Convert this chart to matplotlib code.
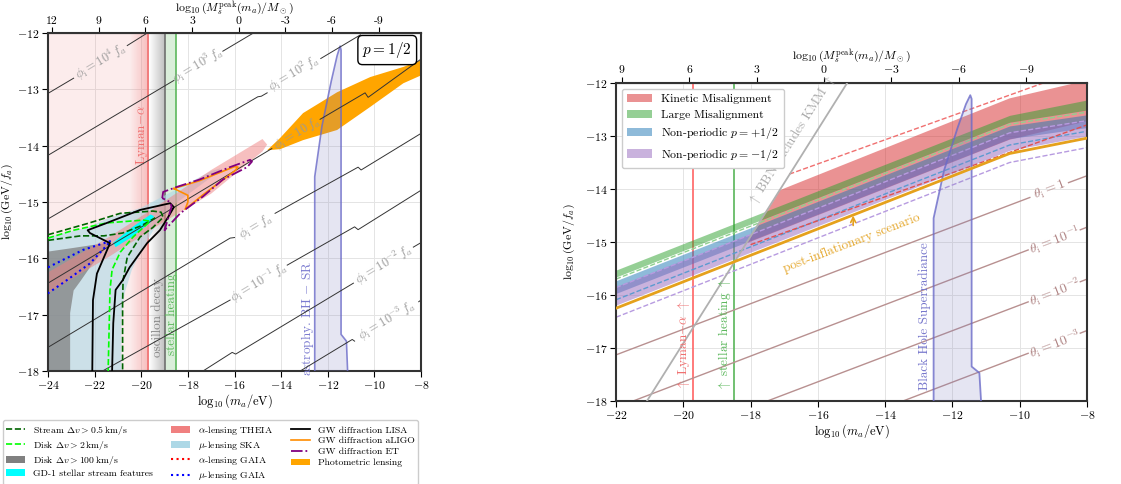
import numpy as np
import matplotlib
matplotlib.use('Agg')
import matplotlib.pyplot as plt
from matplotlib.patches import Patch
from matplotlib.lines import Line2D

plt.rcParams.update({
    'font.family': 'serif',
    'font.serif': ['cmr10'],
    'mathtext.fontset': 'cm',
    'axes.formatter.use_mathtext': True,
    'font.size': 9,
})
nan = np.nan

# ---------------- shared vertical bounds (log10 m_a / eV) ----------------
lyman_m = -19.7
osc_m = -19.0
heat_m = -18.5

# black hole superradiance region
bh_m = [-12.56, -12.56, -12.25, -11.85, -11.6, -11.47, -11.43, -11.43, -11.2, -11.15]
bh_y = [-18, -14.55, -13.65, -12.85, -12.4, -12.23, -12.3, -17.35, -17.47, -18]

# ---------------- left panel: p = 1/2 ----------------
ska_m = [-24, -24, -22.3, -21.5, -20.0, -19.3, -17.0, -16.6, -16.7, -17.2, -18.6, -19.2,
         -19.9, -20.4, -20.7, -20.85, -20.85]
ska_y = [-18, -15.62, -15.45, -15.3, -15.1, -14.95, -14.45, -14.4, -14.47, -14.62, -15.05, -15.3,
         -15.8, -16.2, -16.6, -17.0, -18]

disk100_m = [-24, -24, -23.0, -22.2, -21.35, -21.47, -21.9, -22.2, -22.6, -22.9, -23.05, -23.05]
disk100_y = [-18, -15.88, -15.82, -15.77, -15.72, -15.8, -16.0, -16.16, -16.4, -16.57, -16.97, -18]

theia_m = [-24, -21.3, -19.5, -17.0, -14.8, -14.6, -14.8, -17.0, -19.3, -21.3, -24]
theia_y = [-16.25, -15.6, -15.12, -14.43, -13.88, -13.98, -14.1, -14.85, -15.42, -15.95, -16.62]

gd1_m = [-21.2, -20.4, -19.6, -19.45, -19.6, -20.4, -21.1]
gd1_y = [-15.72, -15.45, -15.22, -15.25, -15.36, -15.62, -15.8]

stream_m = [-24, -22.3, -20.9, -19.5, -19.15, -19.06, -19.5, -20.05, -20.6, -20.78, -20.8, -20.8]
stream_y = [-15.58, -15.38, -15.2, -15.16, -15.18, -15.27, -15.45, -15.62, -15.98, -16.39, -16.8, -18]
stream2_m = [-24, -22.6, -21.6, -20.8, -20.0, -19.4]
stream2_y = [-15.68, -15.6, -15.6, -15.55, -15.42, -15.28]

disk2_m = [-24, -22.9, -21.47, -19.9, -19.62, -20.35, -20.9, -21.25, -21.34, -21.42]
disk2_y = [-15.64, -15.5, -15.37, -15.32, -15.34, -15.62, -15.89, -16.2, -16.56, -18]

gaia_mu_m = [-24, -22.5, -21.3, -22.2, -23.2, -24]
gaia_mu_y = [-16.16, -15.85, -15.69, -16.09, -16.39, -16.62]

lisa_m = [-22.1, -22.07, -21.9, -21.34, -22.2, -22.3, -21.47, -20.05, -18.76, -18.6, -18.85,
          -19.2, -19.75, -20.5, -20.8, -21.1, -21.2, -21.25]
lisa_y = [-18, -16.74, -16.27, -15.73, -15.55, -15.5, -15.37, -15.14, -15.02, -15.09, -15.27,
          -15.5, -15.73, -16.16, -16.39, -16.56, -17.15, -18]

et_m = [-19.1, -19.06, -18.47, -17.5, -16.2, -15.33, -15.25, -15.46, -16.5, -17.35, -18.33,
        -19.0, -18.7, -18.76, -19.1]
et_y = [-14.93, -14.82, -14.73, -14.6, -14.38, -14.25, -14.28, -14.38, -14.6, -14.9, -15.2,
        -15.5, -15.08, -15.0, -14.93]

ligo_m = [-18.6, -17.5, -16.0, -15.85, -16.0, -17.35, -18.12, -18.0, -18.0, -18.6]
ligo_y = [-14.76, -14.62, -14.37, -14.38, -14.45, -14.87, -15.13, -15.0, -14.88, -14.76]

photo_m = [-14.6, -14.04, -13.06, -11.6, -10.18, -8.76, -8.0, -8.0, -8.76, -10.18, -11.6, -13.06, -14.04]
photo_y = [-14.08, -13.86, -13.42, -13.05, -12.78, -12.6, -12.48, -12.75, -12.89, -13.31, -13.72, -13.9, -14.06]

# phi_i contours (nan = gap for the inline label)
phi4_m = [-24, -22.9, nan, -20.6, -19.75]
phi4_y = [-13.07, -12.8, nan, -12.22, -12.0]
phi3_m = [-24, -18.6, nan, -16.5, -15.2]
phi3_y = [-14.17, -12.84, nan, -12.32, -12.0]
phi2_m = [-24, -15.0, -14.85, -14.6, nan, -12.3, -10.6]
phi2_y = [-15.3, -13.13, -13.12, -13.06, nan, -12.45, -12.03]
phi1_m = [-24, -14.4, nan, -12.33, -10.4, -10.27, -8.0]
phi1_y = [-16.44, -14.05, nan, -13.53, -13.06, -13.14, -12.46]
phi0_m = [-24, -16.19, -16.0, nan, -14.26, -10.7, -10.57, -8.0]
phi0_y = [-17.58, -15.64, -15.63, nan, -15.2, -14.38, -14.43, -13.78]
phim1_m = [-21.66, -16.19, nan, -13.74, -10.85, -10.7, -8.0]
phim1_y = [-18, -16.74, nan, -16.12, -15.44, -15.49, -14.79]
phim2_m = [-17.35, -16.1, -15.95, -10.9, nan, -8.33, -8.0]
phim2_y = [-18, -17.67, -17.7, -16.44, nan, -15.8, -15.72]
phim3_m = [-13.18, -10.95, -10.85, nan, -8.1, -8.0]
phim3_y = [-18, -17.44, -17.47, nan, -16.77, -16.74]
phi_labels = [r'$\phi_{\rm i}=10^4\,f_a$', r'$\phi_{\rm i}=10^3\,f_a$', r'$\phi_{\rm i}=10^2\,f_a$',
              r'$\phi_{\rm i}=10\,f_a$', r'$\phi_{\rm i}=f_a$', r'$\phi_{\rm i}=10^{-1}\,f_a$',
              r'$\phi_{\rm i}=10^{-2}\,f_a$', r'$\phi_{\rm i}=10^{-3}\,f_a$']
phi_label_m = [-21.75, -17.55, -13.45, -13.3, -15.1, -14.95, -9.6, -9.45]
phi_label_y = [-12.51, -12.58, -12.72, -13.78, -15.43, -16.43, -16.12, -17.1]

# ---------------- right panel ----------------
np_m = [-22, -10.3, -8]
lm_hi = [-15.53, -12.61, -12.32]
lm_lo = [-15.66, -12.74, -12.51]
npp_hi = [-15.73, -12.81, -12.60]
npp_lo = [-15.97, -13.05, -12.84]
npm_hi = [-15.84, -12.92, -12.70]
npm_lo = [-16.19, -13.27, -13.00]
post_infl = [-16.25, -13.33, -13.04]
lm_dash = [-15.70, -12.78, -12.55]
npp_dash = [-16.09, -13.17, -12.91]
npm_dash_hi = [-15.86, -12.94, -12.71]
npm_dash_lo = [-16.42, -13.50, -13.22]

kmm_m = [-18.1, -17.12, -10.3, -8, -8, -10.3]
kmm_y = [-15.02, -14.02, -12.29, -11.95, -12.72, -13.07]
kmm_dash1_m = [-16.85, -9.3]
kmm_dash1_y = [-13.72, -12.0]
kmm_dash2_m = [-18.0, -8]
kmm_dash2_y = [-15.05, -12.79]

bbn_m = [-21.08, -15.13]
bbn_y = [-18, -12]

th0_m = [-22, -9.7, nan, -8.55, -8]
th0_y = [-17.13, -14.16, nan, -13.88, -13.75]
th1_m = [-21.49, -9.75, nan, -8.2, -8]
th1_y = [-18, -15.15, nan, -14.77, -14.72]
th2_m = [-17.5, -9.75, nan, -8.2, -8]
th2_y = [-18, -16.13, nan, -15.75, -15.7]
th3_m = [-13.47, -9.75, nan, -8.2, -8]
th3_y = [-18, -17.1, nan, -16.72, -16.67]
th_labels = [r'$\theta_{\rm i}=1$', r'$\theta_{\rm i}=10^{-1}$', r'$\theta_{\rm i}=10^{-2}$', r'$\theta_{\rm i}=10^{-3}$']
th_label_m = [-9.1, -8.95, -8.95, -8.95]
th_label_y = [-14.02, -14.97, -15.95, -16.93]

top_ticks_left = [12, 9, 6, 3, 0, -3, -6, -9]
top_ticks_right = [9, 6, 3, 0, -3, -6, -9]


def to_M(m):
    return -1.5 * np.asarray(m) - 23.73


def to_m(M):
    return -(np.asarray(M) + 23.73) / 1.5


def grad_band(ax, x0, x1, rgb, a0, a1):
    img = np.zeros((1, 100, 4))
    img[..., :3] = rgb
    img[0, :, 3] = np.linspace(a0, a1, 100)
    ax.imshow(img, extent=[x0, x1, -18, -12], aspect='auto', zorder=0.8,
              interpolation='bilinear')


def style(ax, ylab_x):
    ax.set_axisbelow(True)
    ax.grid(True, color='#e4e4e4', lw=0.7)
    for s in ax.spines.values():
        s.set_linewidth(1.5)
        s.set_color('#333333')
    ax.tick_params(direction='out', length=4, labelsize=8.5, pad=2)
    ax.set_xlabel(r'$\log_{10}(m_a/{\rm eV})$', fontsize=9, labelpad=1)
    ax.set_ylabel(r'$\log_{10}({\rm GeV}/f_a)$', fontsize=8.5)
    ax.yaxis.set_label_coords(ylab_x, 0.5)


def top_axis(ax, ticks, lab_y, labels=None):
    sec = ax.secondary_xaxis('top', functions=(to_M, to_m))
    if labels is None:
        sec.set_xticks(ticks)
    else:
        sec.set_xticks(ticks, labels=labels)
    sec.tick_params(direction='out', length=4, labelsize=8.5, pad=1.5)
    ax.text(0.5, lab_y, r'$\log_{10}(M_s^{\rm peak}(m_a)/M_\odot)$', fontsize=8.5,
            transform=ax.transAxes, ha='center', va='center')
    return sec


fig = plt.figure(figsize=(11.21, 4.84), dpi=100)
ax1 = fig.add_axes([0.0428, 0.2335, 0.3328, 0.698])
ax2 = fig.add_axes([0.5495, 0.1715, 0.4202, 0.657])

# ---------- left panel ----------
ax1.axvspan(-24, lyman_m, color='#f08080', alpha=0.15, lw=0, zorder=0.7)
grad_band(ax1, -20.5, lyman_m, (0.94, 0.45, 0.45), 0.0, 0.4)
ax1.axvline(lyman_m, color='#f07070', lw=1.2, zorder=1)
grad_band(ax1, -19.65, osc_m, (0.45, 0.45, 0.45), 0.0, 0.45)
ax1.axvline(osc_m, color='#707070', lw=1.2, zorder=1)
ax1.axvspan(osc_m, heat_m, color='#7cc47c', alpha=0.28, lw=0, zorder=0.8)
ax1.axvline(heat_m, color='#5cb85c', lw=1.2, zorder=1)

ax1.fill(ska_m, ska_y, color='lightblue', alpha=0.6, lw=0, zorder=2)
ax1.fill(disk100_m, disk100_y, color='gray', alpha=0.75, lw=0, zorder=2.1)
ax1.fill(theia_m, theia_y, color='lightcoral', alpha=0.5, lw=0, zorder=2.2)
ax1.fill(photo_m, photo_y, color='orange', lw=0, zorder=2.5)
ax1.fill(gd1_m, gd1_y, color='cyan', lw=0, zorder=4)
ax1.fill(bh_m, bh_y, facecolor='#8080c0', alpha=0.2, lw=0, zorder=3)
ax1.plot(bh_m, bh_y, color='#6a6ac8', lw=1.2, alpha=0.8, zorder=3)

ax1.plot(stream_m, stream_y, color='darkgreen', ls='--', lw=1.2, zorder=5)
ax1.plot(stream2_m, stream2_y, color='darkgreen', ls='--', lw=1.2, zorder=5)
ax1.plot(disk2_m, disk2_y, color='lime', ls='--', lw=1.2, zorder=5)
ax1.plot(gaia_mu_m, gaia_mu_y, color='blue', ls=':', lw=1.5, zorder=5)
ax1.plot(lisa_m, lisa_y, color='black', lw=1.3, zorder=5)
ax1.plot(ligo_m, ligo_y, color='darkorange', lw=1.2, zorder=5)
ax1.plot(et_m, et_y, color='purple', ls='-.', lw=1.3, zorder=5.1)

phi_lines = [(phi4_m, phi4_y), (phi3_m, phi3_y), (phi2_m, phi2_y), (phi1_m, phi1_y),
             (phi0_m, phi0_y), (phim1_m, phim1_y), (phim2_m, phim2_y), (phim3_m, phim3_y)]
for (mm, yy) in phi_lines:
    ax1.plot(mm, yy, color='#333333', lw=0.7, zorder=4.5)
for txt, mx, my in zip(phi_labels, phi_label_m, phi_label_y):
    ax1.text(mx, my, txt, color='#999999', fontsize=9, rotation=31, ha='center', va='center', zorder=6)

ax1.text(-19.95, -13.8, r'Lyman$-\alpha$', rotation=90, color='#f07070', fontsize=9.5, ha='center', va='center')
ax1.text(-19.28, -17.05, 'oscillon decay', rotation=90, color='#888888', fontsize=9.5, ha='center', va='center')
ax1.text(-18.7, -17.0, 'stellar heating', rotation=90, color='#5cb85c', fontsize=9.5, ha='center', va='center')
ax1.text(-12.85, -17.07, r'astrophy. BH $-$ SR', rotation=90, color='#7b7bd0', fontsize=9.5,
         ha='center', va='center')
ax1.text(-9.45, -12.3, r'$p = 1/2$', fontsize=11, ha='center', va='center', zorder=7,
         bbox=dict(boxstyle='round,pad=0.3', fc='white', ec='black', lw=1))

ax1.set_xlim(-24, -8)
ax1.set_ylim(-18, -12)
ax1.set_xticks(np.arange(-24, -7, 2))
ax1.set_yticks(np.arange(-18, -11, 1))
style(ax1, -0.088)
top_axis(ax1, top_ticks_left, 1.072, [str(t) for t in top_ticks_left])

# legend below left panel
handles = [
    Line2D([], [], color='darkgreen', ls='--', lw=1.2, label=r'Stream $\Delta v > 0.5\,{\rm km/s}$'),
    Line2D([], [], color='lime', ls='--', lw=1.2, label=r'Disk $\Delta v > 2\,{\rm km/s}$'),
    Patch(facecolor='gray', label=r'Disk $\Delta v > 100\,{\rm km/s}$'),
    Patch(facecolor='cyan', label='GD-1 stellar stream features'),
    Patch(facecolor='lightcoral', label=r'$\alpha$-lensing THEIA'),
    Patch(facecolor='lightblue', label=r'$\mu$-lensing SKA'),
    Line2D([], [], color='red', ls=':', lw=1.5, label=r'$\alpha$-lensing GAIA'),
    Line2D([], [], color='blue', ls=':', lw=1.5, label=r'$\mu$-lensing GAIA'),
    Line2D([], [], color='black', lw=1.3, label='GW diffraction LISA'),
    Line2D([], [], color='darkorange', lw=1.2, label='GW diffraction aLIGO'),
    Line2D([], [], color='purple', ls='-.', lw=1.3, label='GW diffraction ET'),
    Patch(facecolor='orange', label='Photometric lensing'),
]
fig.legend(handles=handles, loc='upper left', bbox_to_anchor=(-0.002, 0.142), ncol=3, fontsize=7,
           handlelength=2.0, handletextpad=0.8, columnspacing=1.8, labelspacing=0.22,
           borderpad=0.35, edgecolor='#cccccc', fancybox=True, framealpha=1)

# ---------- right panel ----------
ax2.axvline(lyman_m, color='#ff7070', lw=1.3, zorder=1)
ax2.axvline(heat_m, color='#66bb66', lw=1.3, zorder=1)
ax2.fill(kmm_m, kmm_y, color='tab:red', alpha=0.5, lw=0, zorder=2, label='Kinetic Misalignment')
ax2.fill_between(np_m, lm_lo, lm_hi, color='tab:green', alpha=0.5, lw=0, zorder=2.1, label='Large Misalignment')
ax2.fill_between(np_m, npp_lo, npp_hi, color='tab:blue', alpha=0.5, lw=0, zorder=2.2,
                 label=r'Non-periodic $p=+1/2$')
ax2.fill_between(np_m, npm_lo, npm_hi, color='tab:purple', alpha=0.5, lw=0, zorder=2.3,
                 label=r'Non-periodic $p=-1/2$')
ax2.plot(np_m, lm_dash, color='#8fd18f', ls='--', lw=1, zorder=2.5)
ax2.plot(np_m, npp_dash, color='#5b9bd0', ls='--', lw=1, zorder=2.5)
ax2.plot(np_m, npm_dash_hi, color='#b79be0', ls='--', lw=1, zorder=2.5)
ax2.plot(np_m, npm_dash_lo, color='#b79be0', ls='--', lw=1, zorder=2.5)
ax2.plot(kmm_dash1_m, kmm_dash1_y, color='#f07070', ls='--', lw=1, zorder=2.5)
ax2.plot(kmm_dash2_m, kmm_dash2_y, color='#e05050', ls='--', lw=1, zorder=2.5)
ax2.plot(np_m, post_infl, color='#e5a11c', lw=2, zorder=4)
ax2.plot(bbn_m, bbn_y, color='#b0b0b0', lw=1.3, zorder=3)
ax2.fill(bh_m, bh_y, facecolor='#8080c0', alpha=0.2, lw=0, zorder=3)
ax2.plot(bh_m, bh_y, color='#6a6ac8', lw=1.3, alpha=0.8, zorder=3)

for (mm, yy) in [(th0_m, th0_y), (th1_m, th1_y), (th2_m, th2_y), (th3_m, th3_y)]:
    ax2.plot(mm, yy, color='#b89090', lw=1, zorder=1.5)
for txt, mx, my in zip(th_labels, th_label_m, th_label_y):
    ax2.text(mx, my, txt, color='#b08585', fontsize=10, rotation=21, ha='center', va='center')

ax2.text(-20.0, -16.95, r'$\uparrow$ Lyman$-\alpha$ $\uparrow$', rotation=90, color='#f07070',
         fontsize=9.5, ha='center', va='center')
ax2.text(-18.78, -16.75, r'$\uparrow$ stellar heating $\uparrow$', rotation=90, color='#5cb85c',
         fontsize=9.5, ha='center', va='center')
ax2.text(-12.82, -16.4, 'Black Hole Superradiance', rotation=90, color='#7777cc', fontsize=9.5,
         ha='center', va='center')
ax2.text(-16.76, -13.1, r'$\uparrow$ BBN excludes KMM $\uparrow$', rotation=57.8, color='#aaaaaa',
         fontsize=9.5, ha='center', va='center', zorder=5)
ax2.text(-14.98, -15.02, 'post-inflationary scenario', rotation=21, color='#e5a82e', fontsize=9.5,
         ha='center', va='center')
ax2.annotate('', xy=(-14.95, -14.45), xytext=(-14.95, -14.74),
             arrowprops=dict(arrowstyle='->', color='#e5a11c', lw=1.2))

ax2.set_xlim(-22, -8)
ax2.set_ylim(-18, -12)
ax2.set_xticks(np.arange(-22, -7, 2))
ax2.set_yticks(np.arange(-18, -11, 1))
style(ax2, -0.083)
top_axis(ax2, top_ticks_right, 1.083)
ax2.legend(loc='upper left', fontsize=8.5, handlelength=2.1, edgecolor='#cccccc', framealpha=1,
           borderpad=0.45, labelspacing=0.45)

fig.savefig('out.png', dpi=100)
